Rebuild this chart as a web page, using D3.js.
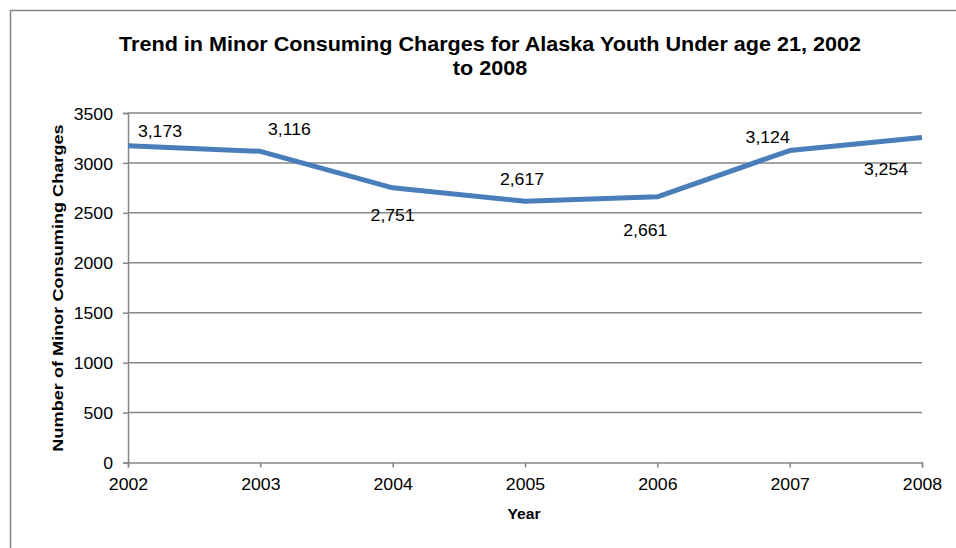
<!DOCTYPE html>
<html><head><meta charset="utf-8">
<script src="https://cdn.jsdelivr.net/npm/d3@7"></script>
<style>body{margin:0;background:#fff;} text{font-family:"Liberation Sans",Arial,sans-serif;}</style>
</head><body>
<svg id="c" width="956" height="548"></svg>
<script>
const years = ["2002","2003","2004","2005","2006","2007","2008"];
const charges = [3173, 3116, 2751, 2617, 2661, 3124, 3254];
const yTicks = [0, 500, 1000, 1500, 2000, 2500, 3000, 3500];
// label placement offsets (layout only): dx, dy of label centre from point
const labelOffsets = [[32,-14.6],[29,-22.3],[0,27],[-3,-22],[-12,33],[-22,-13.5],[-36,31.5]];

const svg = d3.select("#c");
const W = 956, H = 548;
const m = {left:128, right:922, top:113, bottom:462.5};
const sx = 1.04;
const FS = 17;

svg.append("rect").attr("x",10.5).attr("y",10.5).attr("width",W+10).attr("height",H+10)
  .attr("fill","#fff").attr("stroke","#868686").attr("stroke-width",1.5);

const x = d3.scalePoint().domain(years).range([m.left, m.right]);
const y = d3.scaleLinear().domain([0,3500]).range([m.bottom, m.top]);

function stxt(g, tx, ty, str, size, weight, s) {
  return g.append("text").attr("transform",`translate(${tx},${ty}) scale(${s||sx},1)`)
    .attr("text-anchor","middle").attr("font-size",size).attr("font-weight",weight||"normal")
    .attr("fill","#000").text(str);
}

// gridlines
svg.append("g").selectAll("line").data(yTicks.filter(d=>d>0)).join("line")
  .attr("x1",m.left).attr("x2",m.right).attr("y1",d=>y(d)).attr("y2",d=>y(d))
  .attr("stroke","#868686").attr("stroke-width",1.5);

// y axis
const ya = svg.append("g").attr("transform",`translate(${m.left},0)`)
  .call(d3.axisLeft(y).tickValues(yTicks).tickSize(5).tickPadding(9).tickFormat(d3.format("d")));
ya.select(".domain").attr("stroke","#868686").attr("stroke-width",1.5);
ya.selectAll(".tick line").attr("stroke","#868686").attr("stroke-width",1.5);
ya.selectAll(".tick text").attr("font-size",FS).attr("font-family","Liberation Sans, Arial, sans-serif")
  .attr("fill","#000").attr("transform",`scale(${sx},1)`).attr("x",-15/sx).attr("dy","0.36em");

// x axis
const xa = svg.append("g").attr("transform",`translate(0,${m.bottom})`)
  .call(d3.axisBottom(x).tickSize(5).tickPadding(6));
xa.select(".domain").attr("stroke","#868686").attr("stroke-width",1.5);
xa.selectAll(".tick line").attr("stroke","#868686").attr("stroke-width",1.5);
xa.selectAll(".tick text").attr("font-size",FS).attr("font-family","Liberation Sans, Arial, sans-serif")
  .attr("fill","#000").attr("transform",`scale(${sx},1)`).attr("y",27.5).attr("dy",0);

// line
const line = d3.line().x((d,i)=>x(years[i])).y(d=>y(d));
svg.append("path").datum(charges).attr("d",line).attr("fill","none")
  .attr("stroke","#4A7EBB").attr("stroke-width",5).attr("stroke-linejoin","round");

// data labels
const lg = svg.append("g");
charges.forEach((v,i)=>{
  const px = x(years[i]), py = y(v);
  stxt(lg, px+labelOffsets[i][0], py+labelOffsets[i][1]+6.1, d3.format(",")(v), FS);
});

// titles
stxt(svg, 490, 51, "Trend in Minor Consuming Charges for Alaska Youth Under age 21, 2002", 20, "bold", 1.08);
stxt(svg, 490, 75, "to 2008", 20, "bold", 1.08);
stxt(svg, 524, 519, "Year", 15, "bold");
svg.append("text").attr("transform",`translate(63,288) rotate(-90) scale(1.17,1)`)
  .attr("text-anchor","middle").attr("font-size",15.5).attr("font-weight","bold").text("Number of Minor Consuming Charges");
</script>
</body></html>
